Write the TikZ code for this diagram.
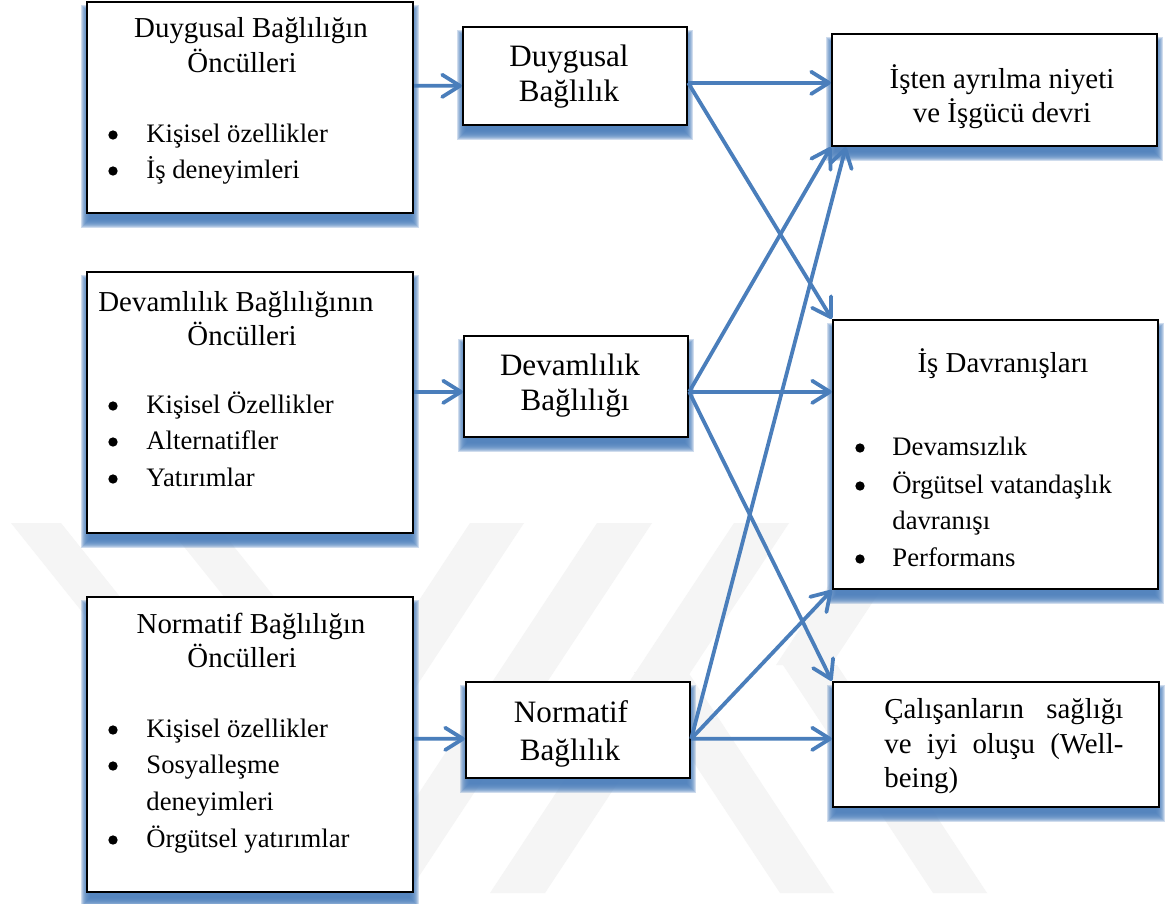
\documentclass[tikz,border=0pt]{standalone}
\usepackage{fontspec}
\setmainfont{Liberation Serif}
\usetikzlibrary{arrows.meta,calc,fit}
\definecolor{linkblue}{RGB}{74,126,187}
\definecolor{shadowblue}{RGB}{79,129,189}
\pgfdeclarelayer{wm}
\pgfdeclarelayer{shadowlayer}
\pgfsetlayers{wm,shadowlayer,main}

\tikzset{
  box/.style={draw=black, line width=1.05pt, fill=white, inner sep=0pt, rectangle},
  arr/.style={draw=linkblue, line width=1.7pt, -{Straight Barb[length=8pt,width=10pt,round]}},
  ttl/.style={inner sep=0pt, anchor=base, font=\fontsize{13}{15}\selectfont},
  mid/.style={inner sep=0pt, anchor=base, font=\fontsize{14}{16}\selectfont},
  item/.style={inner sep=0pt, anchor=base west, font=\fontsize{12}{14}\selectfont},
  dot/.style={circle, fill=black, inner sep=0pt, minimum size=4.2pt},
  band/.style={fill=black!4, draw=none},
}

% soft blue drop shadow below a box
\newcommand\boxshadow[1]{%
  \begin{pgfonlayer}{shadowlayer}
    \foreach \e in {-4,...,5}{
      \fill[shadowblue, fill opacity=0.27]
        ($(#1.north west)+(-\e,9-\e)$) rectangle ($(#1.south east)+(\e,9+\e)$);
    }
  \end{pgfonlayer}}

\begin{document}
\begin{tikzpicture}[x=0.45pt, y=-0.45pt]
\useasboundingbox (0,0) rectangle (1167,903);

% background and faint striped emblem
\begin{pgfonlayer}{wm}
  \fill[white] (0,0) rectangle (1167,903);
  \fill[band] (11,523) -- (61,523) -- (357,893) -- (307,893) -- cycle;
  \fill[band] (165,523) -- (215,523) -- (389,740) -- (339,740) -- cycle;
  \fill[band] (470,523) -- (524,523) -- (280,893) -- (226,893) -- cycle;
  \fill[band] (597,523) -- (652,523) -- (408,893) -- (353,893) -- cycle;
  \fill[band] (734,523) -- (789,523) -- (545,893) -- (490,893) -- cycle;
  \fill[band] (870,523) -- (925,523) -- (831,665) -- (776,665) -- cycle;
  \fill[band] (783,665) -- (837,665) -- (987,893) -- (933,893) -- cycle;
  \fill[band] (634,672) -- (688,672) -- (834,893) -- (780,893) -- cycle;
\end{pgfonlayer}

% boxes
\node[box, fit={(87,2) (413,213)}] (L1) {};
\node[box, fit={(87,272) (413,533)}] (L2) {};
\node[box, fit={(87,597) (413,892)}] (L3) {};
\node[box, fit={(463,27) (687,125)}] (M1) {};
\node[box, fit={(464,336) (688,437)}] (M2) {};
\node[box, fit={(466,682) (690,778)}] (M3) {};
\node[box, fit={(832,34) (1157,146)}] (R1) {};
\node[box, fit={(833,320) (1158,589)}] (R2) {};
\node[box, fit={(833,682) (1159,807)}] (R3) {};

\foreach \b in {L1,L2,L3,M1,M2,M3,R1,R2,R3}{\boxshadow{\b}}

% antecedents of affective commitment
\node[ttl] (t1a) at (251,37) {Duygusal Bağlılığın};
\node[ttl] (t1b) at (242,72) {Öncülleri};
\node[dot] (d1a) at (113,135) {}; \node[item] (i1a) at (146,142) {Kişisel özellikler};
\node[dot] (d1b) at (113,171) {}; \node[item] (i1b) at (146,178) {İş deneyimleri};

% antecedents of continuance commitment
\node[ttl] (t2a) at (236,311) {Devamlılık Bağlılığının};
\node[ttl] (t2b) at (242,345) {Öncülleri};
\node[dot] (d2a) at (113,406) {}; \node[item] (i2a) at (146,413) {Kişisel Özellikler};
\node[dot] (d2b) at (113,442) {}; \node[item] (i2b) at (146,449) {Alternatifler};
\node[dot] (d2c) at (113,479) {}; \node[item] (i2c) at (146,486) {Yatırımlar};

% antecedents of normative commitment
\node[ttl] (t3a) at (251,633) {Normatif Bağlılığın};
\node[ttl] (t3b) at (242,667) {Öncülleri};
\node[dot] (d3a) at (113,730) {}; \node[item] (i3a) at (146,737) {Kişisel özellikler};
\node[dot] (d3b) at (113,766) {}; \node[item] (i3b) at (146,773) {Sosyalleşme};
\node[item] (i3c) at (146,810) {deneyimleri};
\node[dot] (d3d) at (113,840) {}; \node[item] (i3d) at (146,847) {Örgütsel yatırımlar};

% commitment types
\node[mid] (m1a) at (569,66) {Duygusal};
\node[mid] (m1b) at (569,101) {Bağlılık};
\node[mid] (m2a) at (570,375) {Devamlılık};
\node[mid] (m2b) at (575,410) {Bağlılığı};
\node[mid] (m3a) at (571,722) {Normatif};
\node[mid] (m3b) at (570,760) {Bağlılık};

% outcomes
\node[ttl] (r1a) at (1002,88) {İşten ayrılma niyeti};
\node[ttl] (r1b) at (1002,122) {ve İşgücü devri};
\node[ttl] (r2a) at (1003,372) {İş Davranışları};
\node[dot] (d4a) at (860,448) {}; \node[item] (i4a) at (892,455) {Devamsızlık};
\node[dot] (d4b) at (860,486) {}; \node[item] (i4b) at (892,493) {Örgütsel vatandaşlık};
\node[item] (i4c) at (892,529) {davranışı};
\node[dot] (d4d) at (860,559) {}; \node[item] (i4d) at (892,566) {Performans};
\node[ttl, anchor=base west] (r3a) at (884,718) {\makebox[107.5pt][s]{Çalışanların sağlığı}};
\node[ttl, anchor=base west] (r3b) at (884,753) {\makebox[107.5pt][s]{ve iyi oluşu (Well-}};
\node[ttl, anchor=base west] (r3c) at (884,787) {being)};

% antecedents -> commitment
\draw[arr] ($(L1.north east)+(0,85)$) -- ($(M1.north west)+(0,60)$);
\draw[arr] ($(L2.north east)+(0,121)$) -- ($(M2.north west)+(0,57)$);
\draw[arr] ($(L3.north east)+(0,143)$) -- ($(M3.north west)+(0,58)$);

% commitment -> outcomes
\draw[arr] ($(M1.north east)+(0,57)$) -- ($(R1.north west)+(0,50)$);
\draw[arr] ($(M1.north east)+(0,57)$) -- (R2.north west);
\draw[arr] ($(M2.north east)+(0,57)$) -- (R1.south west);
\draw[arr] ($(M2.north east)+(0,57)$) -- ($(R2.north west)+(0,73)$);
\draw[arr] ($(M2.north east)+(0,57)$) -- (R3.north west);
\draw[arr] ($(M3.north east)+(0,58)$) -- ($(R1.south west)+(15,0)$);
\draw[arr] ($(M3.north east)+(0,58)$) -- (R2.south west);
\draw[arr] ($(M3.north east)+(0,58)$) -- ($(R3.north west)+(0,58)$);
\end{tikzpicture}
\end{document}
